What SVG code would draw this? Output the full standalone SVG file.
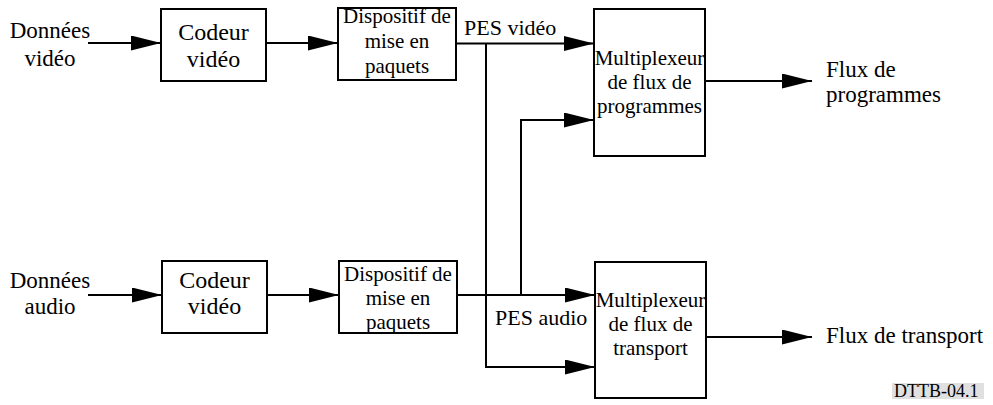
<svg xmlns="http://www.w3.org/2000/svg" width="993" height="405" viewBox="0 0 993 405">
<style>
.box{fill:#ffffff;stroke:#000000;stroke-width:2}
.ln{fill:none;stroke:#000000;stroke-width:2}
text{font-family:'Liberation Serif','DejaVu Serif',serif;fill:#000000}
.c{text-anchor:middle}
</style>
<defs>
<marker id="arr" viewBox="0 0 30 15" markerWidth="30" markerHeight="15" refX="30" refY="7.5" markerUnits="userSpaceOnUse" orient="auto">
<path d="M0,0 L30,7.5 L0,15 Z" fill="#000000"/>
</marker>
</defs>
<rect width="993" height="405" fill="#ffffff"/>

<g id="in-video">
<text class="c" x="50" y="38" font-size="23">Données</text>
<text class="c" x="50" y="66" font-size="23">vidéo</text>
</g>
<g id="in-audio">
<text class="c" x="50" y="288" font-size="23">Données</text>
<text class="c" x="50" y="314" font-size="23">audio</text>
</g>

<g id="codeur1">
<rect class="box" x="161" y="9" width="105" height="72"/>
<text class="c" x="213.5" y="40" font-size="24">Codeur</text>
<text class="c" x="213.5" y="67" font-size="24">vidéo</text>
</g>
<g id="codeur2">
<rect class="box" x="162" y="261" width="105" height="72"/>
<text class="c" x="214.5" y="288" font-size="24">Codeur</text>
<text class="c" x="214.5" y="314" font-size="24">vidéo</text>
</g>

<g id="paquet1">
<rect class="box" x="338" y="8" width="118" height="72"/>
<text class="c" x="397" y="23" font-size="21">Dispositif de</text>
<text class="c" x="397" y="48" font-size="21">mise en</text>
<text class="c" x="397" y="73" font-size="21">paquets</text>
</g>
<g id="paquet2">
<rect class="box" x="339" y="261" width="118" height="72"/>
<text class="c" x="398" y="281" font-size="21">Dispositif de</text>
<text class="c" x="398" y="305" font-size="21">mise en</text>
<text class="c" x="398" y="329" font-size="21">paquets</text>
</g>

<g id="mux1">
<rect class="box" x="594" y="9" width="111" height="147"/>
<text class="c" x="649.5" y="65" font-size="21">Multiplexeur</text>
<text class="c" x="649.5" y="89" font-size="21">de flux de</text>
<text class="c" x="649.5" y="113" font-size="21">programmes</text>
</g>
<g id="mux2">
<rect class="box" x="595" y="262" width="111" height="136"/>
<text class="c" x="650.5" y="307" font-size="21">Multiplexeur</text>
<text class="c" x="650.5" y="331" font-size="21">de flux de</text>
<text class="c" x="650.5" y="355" font-size="21">transport</text>
</g>

<g id="out-prog">
<text x="826" y="77" font-size="23">Flux de</text>
<text x="826" y="102" font-size="23">programmes</text>
</g>
<g id="out-trans">
<text x="826" y="343" font-size="23">Flux de transport</text>
</g>

<g id="connectors">
<line class="ln" x1="88" y1="43" x2="161" y2="43" marker-end="url(#arr)"/>
<line class="ln" x1="266" y1="43" x2="338" y2="43" marker-end="url(#arr)"/>
<line class="ln" x1="456" y1="43.5" x2="594" y2="43.5" marker-end="url(#arr)"/>
<polyline class="ln" points="486,43.5 486,367 595,367" marker-end="url(#arr)"/>
<line class="ln" x1="88" y1="295" x2="162" y2="295" marker-end="url(#arr)"/>
<line class="ln" x1="267" y1="295" x2="339" y2="295" marker-end="url(#arr)"/>
<line class="ln" x1="457" y1="295" x2="595" y2="295" marker-end="url(#arr)"/>
<polyline class="ln" points="521,295 521,120 594,120" marker-end="url(#arr)"/>
<line class="ln" x1="705" y1="81" x2="812" y2="81" marker-end="url(#arr)"/>
<line class="ln" x1="706" y1="337" x2="812" y2="337" marker-end="url(#arr)"/>
<text x="464" y="35" font-size="22">PES vidéo</text>
<text x="495" y="325" font-size="22">PES audio</text>
</g>

<g id="label">
<rect x="892" y="383" width="92" height="16" fill="#e0e0e0"/>
<text x="894" y="397" font-size="18">DTTB-04.1</text>
</g>
</svg>
